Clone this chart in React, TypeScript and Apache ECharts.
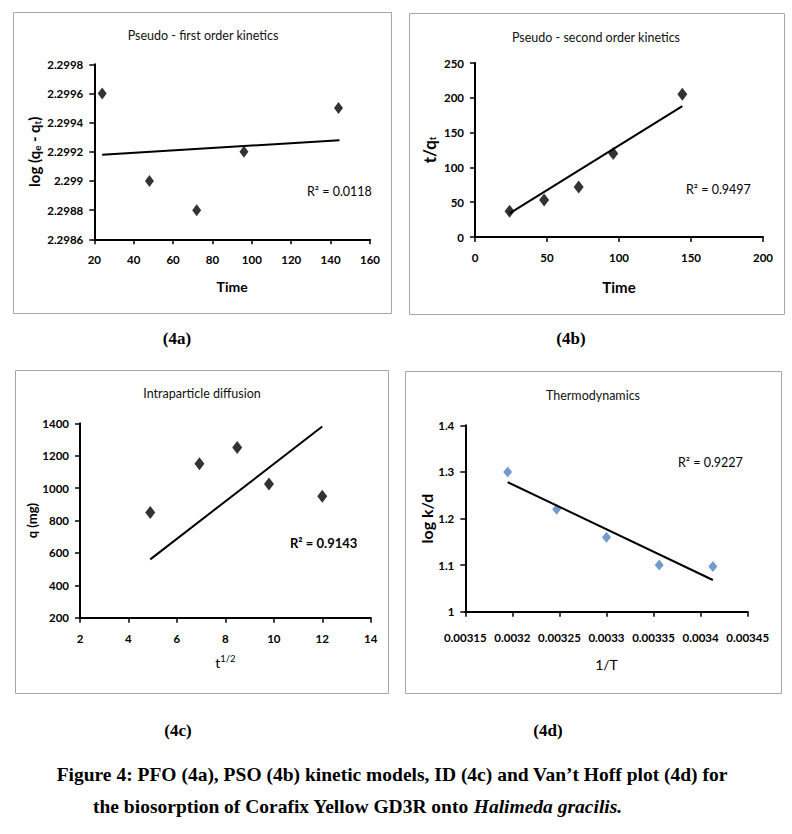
import React, { useEffect, useRef } from "react";
import * as echarts from "echarts";

// ---- Data ----
const pfoTime = [24, 48, 72, 96, 144];
const pfoLogQ = [2.2996, 2.299, 2.2988, 2.2992, 2.2995];
const pfoFitX = [24, 144.5];
const pfoFitY = [2.29918, 2.29928];

const psoTime = [24, 48, 72, 96, 144];
const psoTq = [37, 53, 72, 120, 205];
const psoFitX = [24, 144];
const psoFitY = [34, 188];

const idSqrtT = [4.9, 6.93, 8.49, 9.8, 12];
const idQ = [850, 1150, 1250, 1025, 950];
const idFitX = [4.9, 12];
const idFitY = [560, 1380];

const vhInvT = [0.003195, 0.003247, 0.0033, 0.003356, 0.003413];
const vhLogK = [1.3, 1.22, 1.16, 1.1, 1.097];
const vhFitX = [0.003195, 0.003413];
const vhFitY = [1.278, 1.068];

const titles = [
  "Pseudo - first order kinetics",
  "Pseudo - second order kinetics",
  "Intraparticle diffusion",
  "Thermodynamics",
];
const r2Labels = ["R² = 0.0118", "R² = 0.9497", "R² = 0.9143", "R² = 0.9227"];
const panelLabels = ["(4a)", "(4b)", "(4c)", "(4d)"];
const captionLine1 = "Figure 4: PFO (4a), PSO (4b) kinetic models, ID (4c) and Van’t Hoff plot (4d) for";
const captionLine2a = "the biosorption of Corafix Yellow GD3R onto ";
const captionLine2b = "Halimeda gracilis.";

const FONT = "Lato, 'Open Sans', sans-serif";
const SERIF = "'Liberation Serif', 'DejaVu Serif', serif";

const zip = (xs: number[], ys: number[]) => xs.map((x, i) => [x, ys[i]]);

function App() {
  const ref = useRef<HTMLDivElement>(null);
  useEffect(() => {
    if (!ref.current) return;
    const chart = echarts.init(ref.current, null, { renderer: "svg" });

    const grids = [
      { left: 94.3, top: 64.3, width: 275.7, height: 175 },
      { left: 475, top: 63, width: 288, height: 174 },
      { left: 80, top: 423.3, width: 290.7, height: 194.4 },
      { left: 465.3, top: 425.3, width: 282.4, height: 186.4 },
    ];

    const axisCommon = {
      axisLine: { onZero: false, lineStyle: { color: "#000", width: 2 } },
      axisTick: { show: true, length: 5, lineStyle: { color: "#000", width: 1.5 } },
      splitLine: { show: false },
      axisLabel: { color: "#000", fontFamily: FONT, fontWeight: "bold", fontSize: 11.5 },
      nameLocation: "middle" as const,
    };

    const subRich = {
      s: { fontSize: 9.5, fontFamily: FONT, fontWeight: "bold", color: "#000", padding: [6, 0, 0, 0] },
    };

    const plain = (v: number) => String(v);

    const xAxes = [
      {
        ...axisCommon, gridIndex: 0, type: "value", min: 20, max: 160, interval: 20,
        axisLabel: { ...axisCommon.axisLabel, margin: 14 },
        name: "Time", nameGap: 40,
        nameTextStyle: { color: "#000", fontFamily: FONT, fontWeight: "bold", fontSize: 14 },
      },
      {
        ...axisCommon, gridIndex: 1, type: "value", min: 0, max: 200, interval: 50,
        axisLabel: { ...axisCommon.axisLabel, margin: 14 },
        name: "Time", nameGap: 42,
        nameTextStyle: { color: "#000", fontFamily: FONT, fontWeight: "bold", fontSize: 15 },
      },
      {
        ...axisCommon, gridIndex: 2, type: "value", min: 2, max: 14, interval: 2,
        axisLabel: { ...axisCommon.axisLabel, margin: 15 },
        name: "t{p|1/2}", nameGap: 36,
        nameTextStyle: {
          color: "#000", fontFamily: FONT, fontSize: 14,
          rich: { p: { fontSize: 9.5, fontFamily: FONT, color: "#000", padding: [0, 0, 8, 0] } },
        },
      },
      {
        ...axisCommon, gridIndex: 3, type: "value", min: 0.00315, max: 0.00345, interval: 0.00005,
        axisLabel: { ...axisCommon.axisLabel, margin: 20 },
        name: "1/T", nameGap: 46,
        nameTextStyle: { color: "#000", fontFamily: FONT, fontSize: 14 },
      },
    ];

    const yAxes = [
      {
        ...axisCommon, gridIndex: 0, type: "value", min: 2.2986, max: 2.2998, interval: 0.0002,
        axisLabel: { ...axisCommon.axisLabel, margin: 11 },
        name: "log (q{s|e} - q{s|t})", nameGap: 52,
        nameTextStyle: { color: "#000", fontFamily: FONT, fontWeight: "bold", fontSize: 15, rich: subRich },
      },
      {
        ...axisCommon, gridIndex: 1, type: "value", min: 0, max: 250, interval: 50,
        axisLabel: { ...axisCommon.axisLabel, margin: 11 },
        name: "t/q{s|t}", nameGap: 37,
        nameTextStyle: { color: "#000", fontFamily: FONT, fontWeight: "bold", fontSize: 17, rich: subRich },
      },
      {
        ...axisCommon, gridIndex: 2, type: "value", min: 200, max: 1400, interval: 200,
        axisLabel: { ...axisCommon.axisLabel, margin: 11, formatter: plain },
        name: "q (mg)", nameGap: 36,
        nameTextStyle: { color: "#000", fontFamily: FONT, fontWeight: "bold", fontSize: 13 },
      },
      {
        ...axisCommon, gridIndex: 3, type: "value", min: 1, max: 1.4, interval: 0.1,
        axisLabel: { ...axisCommon.axisLabel, margin: 11 },
        name: "log k/d", nameGap: 30,
        nameTextStyle: { color: "#000", fontFamily: FONT, fontWeight: "bold", fontSize: 16 },
      },
    ];

    const scatter = (i: number, xs: number[], ys: number[], color: string, size: number[]) => ({
      type: "scatter", xAxisIndex: i, yAxisIndex: i, data: zip(xs, ys),
      symbol: "diamond", symbolSize: size, itemStyle: { color },
    });
    const fit = (i: number, xs: number[], ys: number[]) => ({
      type: "line", xAxisIndex: i, yAxisIndex: i, data: zip(xs, ys),
      showSymbol: false, symbol: "none", lineStyle: { color: "#000", width: 2 },
    });

    const boxes = [
      [13, 12, 378, 301],
      [409, 13, 375, 301],
      [15, 370, 373, 323],
      [405, 371, 376, 322],
    ];
    const titlePos = [[203, 35], [596, 37], [202, 393], [593, 395]];
    const r2Pos = [[307, 191], [686, 189], [290, 543], [678, 462]];
    const r2Bold = [false, false, true, false];
    const panelPos = [[177, 338], [571, 338], [178, 730], [548, 730]];

    const graphic: any[] = [];
    boxes.forEach((b) =>
      graphic.push({
        type: "rect", silent: true, z: -1,
        shape: { x: b[0] + 0.5, y: b[1] + 0.5, width: b[2], height: b[3] },
        style: { fill: "#fff", stroke: "#a6a6a6", lineWidth: 1 },
      })
    );
    titles.forEach((t, i) =>
      graphic.push({
        type: "text", x: titlePos[i][0], y: titlePos[i][1],
        style: { text: t, fill: "#111", fontFamily: FONT, fontSize: 12.5, align: "center", verticalAlign: "middle" },
      })
    );
    r2Labels.forEach((t, i) =>
      graphic.push({
        type: "text", x: r2Pos[i][0], y: r2Pos[i][1],
        style: {
          text: t, fill: "#000", fontFamily: FONT, fontSize: r2Bold[i] ? 13 : 12.5,
          fontWeight: r2Bold[i] ? "bold" : "normal", align: "left", verticalAlign: "middle",
        },
      })
    );
    panelLabels.forEach((t, i) =>
      graphic.push({
        type: "text", x: panelPos[i][0], y: panelPos[i][1],
        style: { text: t, fill: "#000", fontFamily: SERIF, fontWeight: "bold", fontSize: 17, align: "center", verticalAlign: "middle" },
      })
    );
    graphic.push({
      type: "text", x: 392, y: 774,
      style: { text: captionLine1, fill: "#000", fontFamily: SERIF, fontWeight: "bold", fontSize: 19.5, align: "center", verticalAlign: "middle" },
    });
    graphic.push({
      type: "text", x: 93, y: 806,
      style: {
        text: captionLine2a + "{i|" + captionLine2b + "}",
        fill: "#000", fontFamily: SERIF, fontWeight: "bold", fontSize: 19.5, align: "left", verticalAlign: "middle",
        rich: { i: { fontFamily: SERIF, fontWeight: "bold", fontStyle: "italic", fontSize: 19.5, fill: "#000" } },
      },
    });

    chart.setOption({
      animation: false,
      backgroundColor: "#fff",
      grid: grids,
      xAxis: xAxes,
      yAxis: yAxes,
      series: [
        scatter(0, pfoTime, pfoLogQ, "#000", [9, 12]),
        fit(0, pfoFitX, pfoFitY),
        scatter(1, psoTime, psoTq, "#000", [10, 13]),
        fit(1, psoFitX, psoFitY),
        scatter(2, idSqrtT, idQ, "#000", [10, 13]),
        fit(2, idFitX, idFitY),
        scatter(3, vhInvT, vhLogK, "#4F81BD", [9, 11]),
        fit(3, vhFitX, vhFitY),
      ],
      graphic,
    });
    return () => chart.dispose();
  }, []);

  return (
    <div
      ref={ref}
      style={{ position: "absolute", left: 0, top: 0, width: 792, height: 834, background: "#fff" }}
    />
  );
}

export default App;
